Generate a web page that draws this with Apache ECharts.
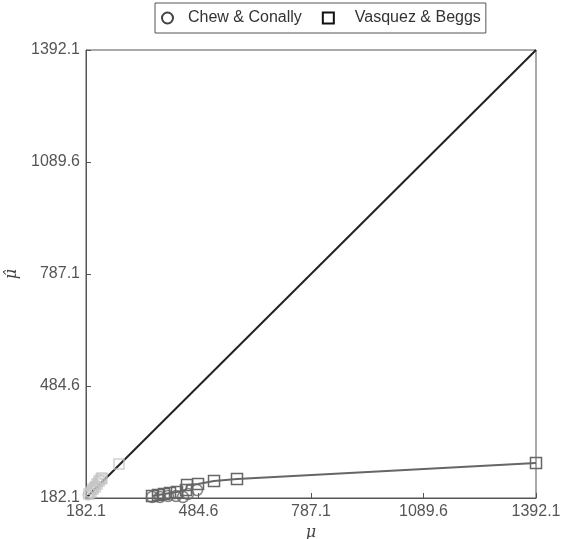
<!DOCTYPE html>
<html>
<head>
<meta charset="utf-8">
<script src="https://cdn.jsdelivr.net/npm/echarts@6/dist/echarts.min.js"></script>
<style>html,body{margin:0;padding:0;background:#fff}#c{width:561px;height:539px}</style>
</head>
<body>
<div id="c"></div>
<script>
var axisMin = 182.1;
var axisMax = 1392.1;
var tickStep = 302.5;
var seriesNames = ['Chew & Conally', 'Vasquez & Beggs'];
// dark markers (test data)
var chewX = [359.6, 381.1, 402.6, 424.1, 442.9, 456.4, 480.6];
var chewY = [184.8, 184.8, 187.5, 187.5, 184.8, 192.9, 203.7];
var vasqX = [359.6, 375.7, 391.8, 408.0, 426.8, 451.0, 453.7, 483.3, 526.3, 588.1, 1392.1];
var vasqY = [187.5, 190.2, 192.9, 195.6, 198.3, 203.7, 217.2, 219.9, 228.0, 233.4, 276.6];
// light markers near origin
var chewLightX = [187.5, 192.9, 198.2, 203.6, 209.0, 214.4, 219.7];
var chewLightY = [190.2, 195.6, 203.7, 209.1, 217.2, 225.3, 230.7];
var vasqLightX = [190.0, 195.6, 201.0, 206.3, 211.7, 217.0, 222.4, 225.1, 270.8];
var vasqLightY = [192.9, 198.3, 206.4, 211.8, 219.9, 228.0, 233.4, 236.1, 273.9];
var diagX = [182.1, 1392.1];
var diagY = [182.1, 1392.1];

function zip(a, b) { return a.map(function (v, i) { return [v, b[i]]; }); }

var chart = echarts.init(document.getElementById('c'), null, {renderer: 'canvas'});
var lblFont = {color: '#555', fontSize: 16, fontFamily: 'Liberation Sans, Arial, sans-serif'};
var legFont = {color: '#333', fontSize: 16, fontFamily: 'Liberation Sans, Arial, sans-serif'};
chart.setOption({
  animation: false,
  grid: {left: 86, right: 25, top: 50, bottom: 41, outerBoundsMode: 'none', containLabel: false,
    show: true, borderColor: '#555', borderWidth: 1, backgroundColor: 'transparent'},
  legend: {
    top: 3, left: 155,
    padding: [7, 5, 7, 6],
    borderColor: '#555', borderWidth: 1,
    itemGap: 20, itemWidth: 11, itemHeight: 11,
    textStyle: legFont,
    data: [
      {name: seriesNames[0], icon: 'circle', itemStyle: {color: '#fff', borderColor: '#111', borderWidth: 2},
        textStyle: Object.assign({padding: [0, 0, 0, 10]}, legFont)},
      {name: seriesNames[1], icon: 'rect', itemStyle: {color: '#fff', borderColor: '#111', borderWidth: 2},
        textStyle: Object.assign({padding: [0, 0, 0, 16]}, legFont)}
    ]
  },
  xAxis: {
    type: 'value', min: axisMin, max: axisMax, interval: tickStep,
    name: 'μ', nameLocation: 'middle', nameGap: 22,
    nameTextStyle: {color: '#444', fontSize: 16, fontStyle: 'italic', fontFamily: 'DejaVu Serif, serif'},
    axisLine: {show: true, lineStyle: {color: '#555'}},
    axisTick: {show: true, inside: true, length: 5, lineStyle: {color: '#555'}},
    axisLabel: Object.assign({margin: 6, formatter: function (v) { return v.toFixed(1); }}, lblFont),
    splitLine: {show: false}
  },
  yAxis: {
    type: 'value', min: axisMin, max: axisMax, interval: tickStep,
    name: 'μ̂', nameLocation: 'middle', nameGap: 66, nameRotate: 90,
    nameTextStyle: {color: '#444', fontSize: 16, fontStyle: 'italic', fontFamily: 'DejaVu Serif, serif'},
    axisLine: {show: true, lineStyle: {color: '#555'}},
    axisTick: {show: true, inside: true, length: 5, lineStyle: {color: '#555'}},
    axisLabel: Object.assign({margin: 6, formatter: function (v) { return v.toFixed(1); }}, lblFont),
    splitLine: {show: false}
  },
  series: [
    {name: 'diag', type: 'line', data: zip(diagX, diagY), symbol: 'none', lineStyle: {color: '#222', width: 2}, z: 1, silent: true},
    {name: 'lightC', type: 'scatter', data: zip(chewLightX, chewLightY), symbol: 'circle', symbolSize: 10,
      itemStyle: {color: 'rgba(0,0,0,0)', borderColor: '#c4c4c4', borderWidth: 1.5}, z: 2},
    {name: 'lightV', type: 'scatter', data: zip(vasqLightX, vasqLightY), symbol: 'rect', symbolSize: 10,
      itemStyle: {color: 'rgba(0,0,0,0)', borderColor: '#c4c4c4', borderWidth: 1.5}, z: 2},
    {name: seriesNames[0], type: 'scatter', data: zip(chewX, chewY), symbol: 'circle', symbolSize: 11,
      itemStyle: {color: 'rgba(0,0,0,0)', borderColor: '#666', borderWidth: 1.5}, z: 3},
    {name: seriesNames[1], type: 'line', data: zip(vasqX, vasqY), symbol: 'rect', symbolSize: 11, showAllSymbol: true,
      lineStyle: {color: '#666', width: 2},
      itemStyle: {color: 'rgba(0,0,0,0)', borderColor: '#666', borderWidth: 1.5}, z: 3}
  ]
});
</script>
</body>
</html>
